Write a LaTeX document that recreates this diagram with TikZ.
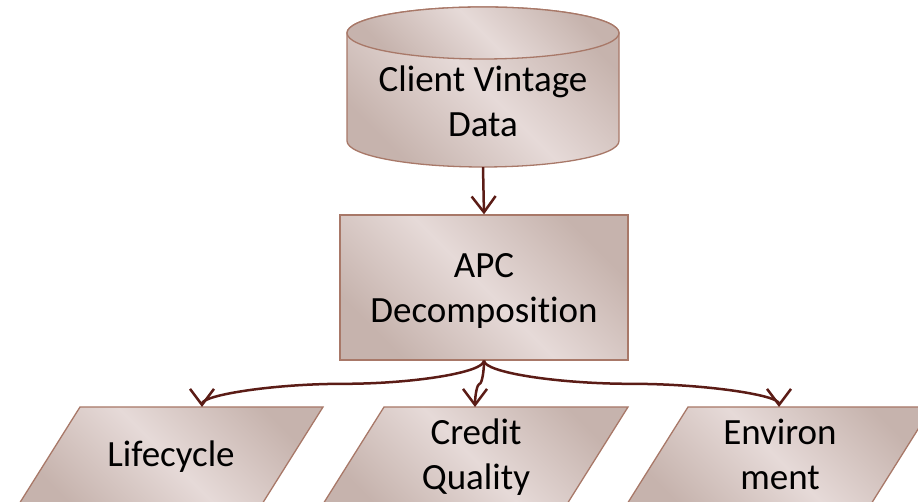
\documentclass[tikz,border=0pt]{standalone}
\usepackage{fontspec}
\setmainfont{Carlito}[Ligatures=NoCommon]
\usetikzlibrary{arrows.meta,calc}
\definecolor{shD}{HTML}{C6B3AD}
\definecolor{shL}{HTML}{E6DAD8}
\definecolor{edge}{HTML}{A87868}
\definecolor{conncol}{HTML}{5B1C16}
\pgfdeclarehorizontalshading{pinkshade}{100bp}{color(0bp)=(shD); color(25bp)=(shD); color(50bp)=(shL); color(75bp)=(shD); color(100bp)=(shD)}
\tikzset{
  shapefill/.style={shading=pinkshade, shading angle=45, draw=edge, line width=1.3pt},
  lbl/.style={font=\fontsize{37}{45.5}\selectfont, align=center, inner sep=0pt, text=black},
  conn/.style={draw=conncol, line width=2.5pt, -{Straight Barb[length=16pt,width=24pt,line width=2.5pt]}},
}
\begin{document}
\begin{tikzpicture}[x=1pt,y=1pt]
\useasboundingbox (0,0) rectangle (918,502);
\clip (0,0) rectangle (918,502);
% cylinder
\path[shapefill] (347,469) -- (347,361) arc[start angle=180,end angle=360,x radius=136,y radius=26] -- (619,469) arc[start angle=0,end angle=180,x radius=136,y radius=26] -- cycle;
\path[shapefill] (483,469) ellipse[x radius=136,y radius=26];
\node[minimum width=272pt, minimum height=160pt, inner sep=0pt] (cyl) at (483,415) {};
\node[lbl, anchor=base] (cyltxt) at (483,365) {Client Vintage\\Data};
% APC box
\node[shapefill, minimum width=288pt, minimum height=145pt, inner sep=0pt] (apc) at (484,214.5) {};
\node[lbl, anchor=base] (apctxt) at (484,179) {APC\\Decomposition};
% parallelograms
\path[shapefill] (80,95) -- (323,95) -- (258.3,-8) -- (15.3,-8) -- cycle;
\path[shapefill] (384,95) -- (628,95) -- (563.3,-8) -- (319.3,-8) -- cycle;
\path[shapefill] (688,95) -- (932,95) -- (867.3,-8) -- (623.3,-8) -- cycle;
\node[lbl, anchor=base] (lc) at (171,35) {Lifecycle};
\node[lbl, anchor=base] (cq) at (476,12) {Credit\\Quality};
\node[lbl, anchor=base] (env) at (780,12) {Environ\\ment};
\coordinate (t1) at (202,95);
\coordinate (t2) at (475,95);
\coordinate (t3) at (779,95);
% connectors
\draw[conn] (cyl.south) -- (apc.north);
\coordinate (m1) at ($(apc.south)!.5!(t1)$);
\coordinate (m2) at ($(apc.south)!.5!(t2)$);
\coordinate (m3) at ($(apc.south)!.5!(t3)$);
\draw[conn] (apc.south) .. controls +(0,-11.75) and +(70.5,0) .. (m1) .. controls +(-70.5,0) and +(0,11.75) .. (t1);
\draw[conn] (apc.south) .. controls +(0,-11.75) and +(2.25,0) .. (m2) .. controls +(-2.25,0) and +(0,11.75) .. (t2);
\draw[conn] (apc.south) .. controls +(0,-11.75) and +(-73.75,0) .. (m3) .. controls +(73.75,0) and +(0,11.75) .. (t3);
\end{tikzpicture}
\end{document}
